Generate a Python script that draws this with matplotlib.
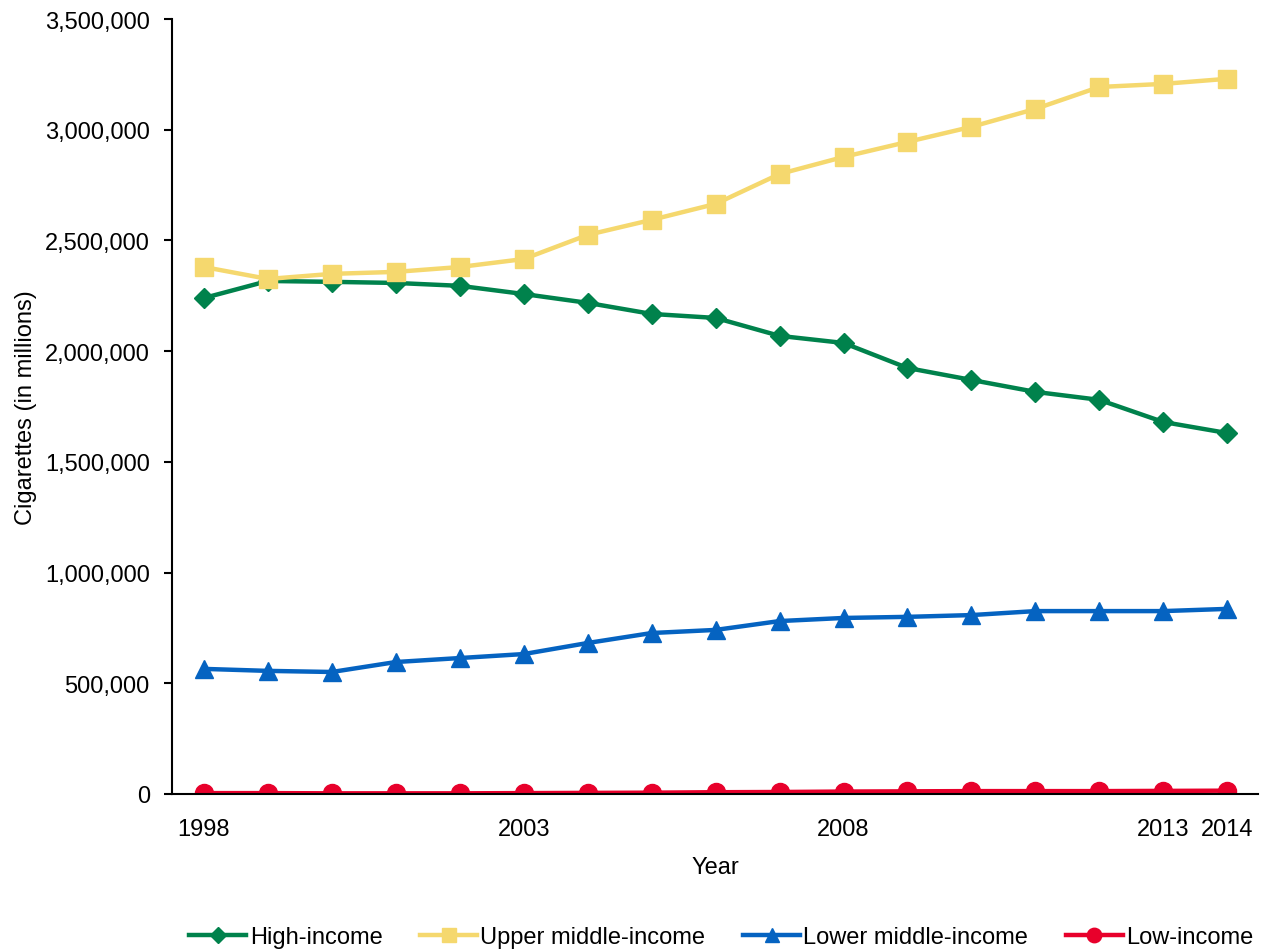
import matplotlib
matplotlib.use("Agg")
import matplotlib.pyplot as plt
from matplotlib.ticker import FuncFormatter

plt.rcParams['font.family'] = ['Liberation Sans Narrow', 'Liberation Sans', 'DejaVu Sans']

# Data: cigarettes (in millions) by World Bank income group
years = list(range(1998, 2015))
high_income = [2240000, 2317000, 2313000, 2308000, 2295000, 2258000, 2218000, 2168000,
               2150000, 2069000, 2037000, 1924000, 1870000, 1816000, 1780000, 1680000, 1630000]
upper_middle = [2380000, 2326000, 2349000, 2358000, 2380000, 2416000, 2525000, 2593000,
                2665000, 2800000, 2877000, 2945000, 3013000, 3094000, 3193000, 3207000, 3230000]
lower_middle = [565000, 556000, 551000, 596000, 614000, 632000, 682000, 727000,
                741000, 781000, 795000, 800000, 808000, 826000, 826000, 826000, 836000]
low_income = [4000, 4000, 3000, 3000, 3000, 4000, 5000, 6000,
              8000, 9000, 11000, 12000, 13000, 13000, 13000, 14000, 15000]

xtick_years = [1998, 2003, 2008, 2013, 2014]

fig = plt.figure(figsize=(12.61, 9.53), dpi=100)
ax = fig.add_axes([0.1364, 0.1658, 0.8612, 0.8132])

lw = 3.2
ax.plot(years, high_income, color='#00824C', lw=lw, marker='D', ms=10, label='High-income')
ax.plot(years, upper_middle, color='#F5D86E', lw=lw, marker='s', ms=13, label='Upper middle-income')
ax.plot(years, lower_middle, color='#0563C1', lw=lw, marker='^', ms=13, label='Lower middle-income')
ax.plot(years, low_income, color='#E8002B', lw=lw, marker='o', ms=13, label='Low-income')

ax.set_xlim(1997.5, 2014.48)
ax.set_ylim(0, 3500000)
ax.set_yticks(range(0, 3500001, 500000))
ax.yaxis.set_major_formatter(FuncFormatter(lambda v, p: f"{int(v):,}"))
ax.set_xticks(xtick_years)
ax.tick_params(axis='x', length=0, pad=17, labelsize=17)
ax.tick_params(axis='y', length=6, width=1.5, direction='out', pad=10, labelsize=17)

for s in ['top', 'right']:
    ax.spines[s].set_visible(False)
for s in ['left', 'bottom']:
    ax.spines[s].set_linewidth(1.5)

ax.set_xlabel('Year', fontsize=17, labelpad=12)
ax.set_ylabel('Cigarettes (in millions)', fontsize=17, labelpad=6)

ax.legend(loc='upper center', bbox_to_anchor=(0.506, -0.143), ncol=4, frameon=False,
          fontsize=17, handlelength=2.4, columnspacing=1.6, handletextpad=0.15,
          markerscale=0.8)

fig.savefig('out.png', dpi=100)
